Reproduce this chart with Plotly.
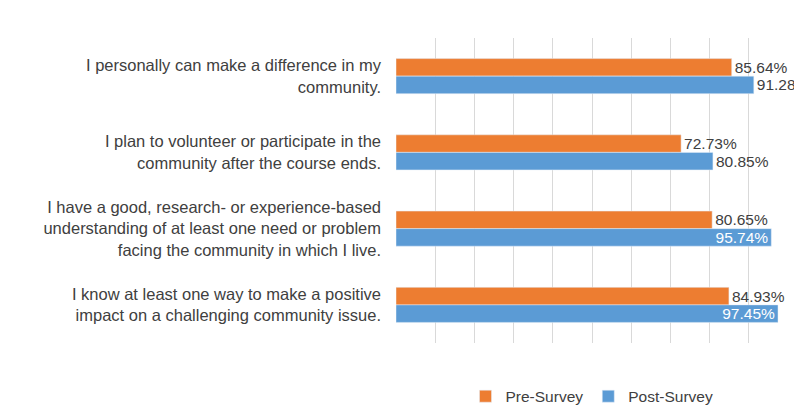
import plotly.graph_objects as go

categories = [
    "I personally can make a difference in my<br>community.",
    "I plan to volunteer or participate in the<br>community after the course ends.",
    "I have a good, research- or experience-based<br>understanding of at least one need or problem<br>facing the community in which I live.",
    "I know at least one way to make a positive<br>impact on a challenging community issue.",
]
pre_survey = [85.64, 72.73, 80.65, 84.93]
post_survey = [91.28, 80.85, 95.74, 97.45]

post_pos = ["outside" if v < 93 else "inside" for v in post_survey]

fig = go.Figure()
fig.add_trace(go.Bar(y=categories, x=pre_survey, name="Pre-Survey", orientation="h",
                     marker_color="#ED7D31", text=[f"{v:.2f}%" for v in pre_survey],
                     textposition="outside", cliponaxis=False,
                     textfont=dict(size=15.5, color="#404040")))
fig.add_trace(go.Bar(y=categories, x=post_survey, name="Post-Survey", orientation="h",
                     marker_color="#5B9BD5", text=[f"{v:.2f}%" for v in post_survey],
                     textposition=post_pos, insidetextanchor="end", cliponaxis=False,
                     textfont=dict(size=15.5, color="#404040"),
                     insidetextfont=dict(size=15.5, color="white")))

fig.update_layout(
    width=802, height=411,
    margin=dict(l=388, r=22, t=30, b=76, autoexpand=False),
    barmode="group", bargap=0.54, bargroupgap=0,
    plot_bgcolor="white", paper_bgcolor="white",
    font=dict(family="Liberation Sans, Arial", size=16.5, color="#404040"),
    uniformtext=dict(minsize=15, mode="show"),
    xaxis=dict(range=[0, 100], dtick=10, showticklabels=False, showgrid=True,
               gridcolor="#d9d9d9", zeroline=False, automargin=False),
    yaxis=dict(autorange="reversed", ticklabelstandoff=14, showline=False, automargin=False),
    legend=dict(orientation="h", x=0.5, xanchor="center", y=-0.12, yanchor="top",
                font=dict(size=15.5)),
)
fig.write_html("out.html")
